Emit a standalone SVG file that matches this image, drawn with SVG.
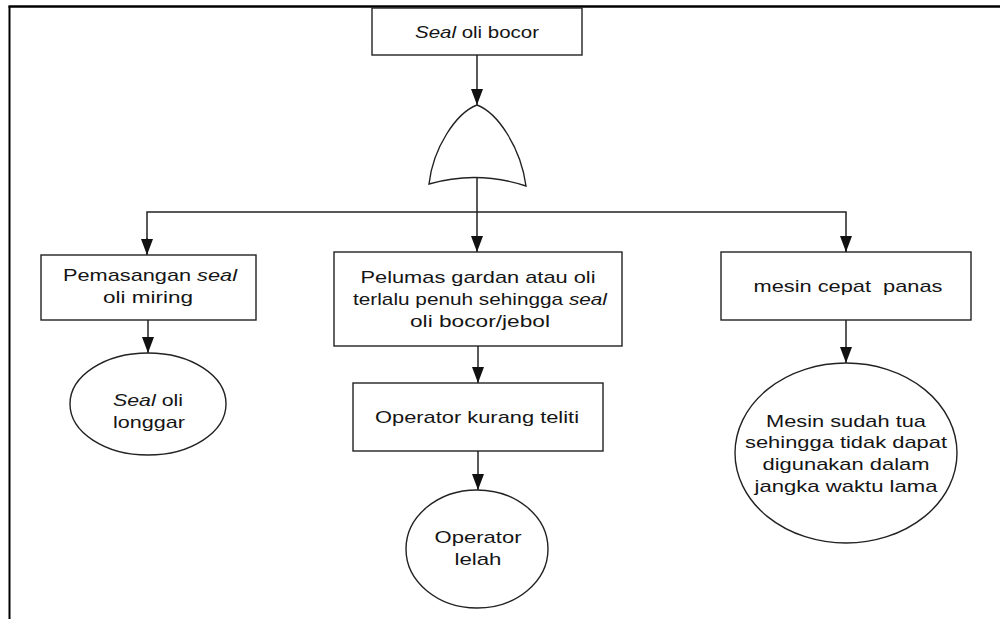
<svg xmlns="http://www.w3.org/2000/svg" width="1000" height="619" viewBox="0 0 1000 619">
<defs>
<marker id="arr" markerUnits="userSpaceOnUse" markerWidth="16" markerHeight="12" viewBox="0 0 16 12" refX="16" refY="6" orient="auto">
<path d="M0,0 L16,6 L0,12 Z" fill="#111"/>
</marker>
<style>
.box{fill:#fff;stroke:#222;stroke-width:1.4}
.ell{fill:#fff;stroke:#222;stroke-width:1.4}
.ln{fill:none;stroke:#222;stroke-width:1.5}
.ar{fill:none;stroke:#222;stroke-width:1.5;marker-end:url(#arr)}
.t{font-family:"Liberation Sans",Arial,sans-serif;font-size:17px;fill:#151515;text-anchor:middle}
.i{font-style:italic}
.frame{stroke:#000;fill:none}
</style>
</defs>
<rect width="1000" height="619" fill="#fff"/>
<line class="frame" x1="8.5" y1="6.5" x2="1000" y2="6.5" stroke-width="2.5"/>
<line class="frame" x1="9.5" y1="6" x2="9.5" y2="619" stroke-width="2"/>

<g id="connectors">
<line class="ar" x1="477" y1="55" x2="477" y2="105"/>
<line class="ar" x1="477" y1="178" x2="477" y2="252"/>
<polyline class="ln" points="147,254 147,212 846,212 846,252"/>
<line class="ar" x1="147" y1="238" x2="147" y2="255"/>
<line class="ar" x1="846" y1="238" x2="846" y2="252"/>
<line class="ar" x1="148" y1="320" x2="148" y2="353"/>
<line class="ar" x1="478" y1="346" x2="478" y2="383"/>
<line class="ar" x1="478" y1="451" x2="478" y2="490"/>
<line class="ar" x1="846" y1="320" x2="846" y2="363"/>
</g>

<g id="top">
<rect class="box" x="372" y="8" width="210" height="47"/>
<text class="t" x="477" y="38" textLength="124" lengthAdjust="spacingAndGlyphs"><tspan class="i">Seal</tspan> oli bocor</text>
</g>

<g id="gate">
<path class="box" d="M477,105 C456,113 433,148 429,184 Q477,170 526,186 C521,148 498,113 477,105 Z"/>
</g>

<g id="left-box">
<rect class="box" x="41" y="255" width="215" height="65"/>
<text class="t" x="150" y="281" textLength="174" lengthAdjust="spacingAndGlyphs">Pemasangan <tspan class="i">seal</tspan></text>
<text class="t" x="148" y="303" textLength="90" lengthAdjust="spacingAndGlyphs">oli miring</text>
</g>

<g id="left-circle">
<ellipse class="ell" cx="148" cy="404" rx="78" ry="51"/>
<text class="t" x="148" y="406" textLength="70" lengthAdjust="spacingAndGlyphs"><tspan class="i">Seal</tspan> oli</text>
<text class="t" x="149" y="428" textLength="72" lengthAdjust="spacingAndGlyphs">longgar</text>
</g>

<g id="mid-box">
<rect class="box" x="334" y="252" width="288" height="94"/>
<text class="t" x="478" y="283" textLength="235" lengthAdjust="spacingAndGlyphs">Pelumas gardan atau oli</text>
<text class="t" x="480" y="305" textLength="254" lengthAdjust="spacingAndGlyphs">terlalu penuh sehingga <tspan class="i">seal</tspan></text>
<text class="t" x="480" y="327" textLength="140" lengthAdjust="spacingAndGlyphs">oli bocor/jebol</text>
</g>

<g id="mid-box2">
<rect class="box" x="353" y="383" width="250" height="68"/>
<text class="t" x="477" y="423" textLength="204" lengthAdjust="spacingAndGlyphs">Operator kurang teliti</text>
</g>

<g id="mid-circle">
<ellipse class="ell" cx="477" cy="549" rx="71" ry="59"/>
<text class="t" x="478" y="543" textLength="87" lengthAdjust="spacingAndGlyphs">Operator</text>
<text class="t" x="478" y="565" textLength="47" lengthAdjust="spacingAndGlyphs">lelah</text>
</g>

<g id="right-box">
<rect class="box" x="721" y="252" width="250" height="68"/>
<text class="t" x="848" y="292" textLength="189" lengthAdjust="spacingAndGlyphs" xml:space="preserve">mesin cepat  panas</text>
</g>

<g id="right-circle">
<ellipse class="ell" cx="846" cy="453" rx="111" ry="90"/>
<text class="t" x="846" y="427" textLength="160" lengthAdjust="spacingAndGlyphs">Mesin sudah tua</text>
<text class="t" x="846" y="448" textLength="202" lengthAdjust="spacingAndGlyphs">sehingga tidak dapat</text>
<text class="t" x="846" y="470" textLength="167" lengthAdjust="spacingAndGlyphs">digunakan dalam</text>
<text class="t" x="846" y="492" textLength="183" lengthAdjust="spacingAndGlyphs">jangka waktu lama</text>
</g>
</svg>
